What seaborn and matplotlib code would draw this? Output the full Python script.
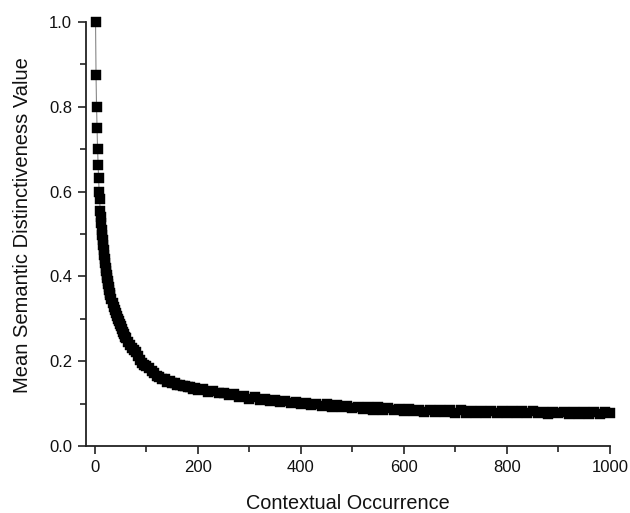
import matplotlib
matplotlib.use("Agg")
import matplotlib.pyplot as plt
import seaborn as sns
import pandas as pd
from matplotlib.ticker import MultipleLocator

occurrence = (list(range(1, 31)) + list(range(32, 61, 2)) + list(range(64, 101, 4))
              + list(range(105, 201, 5)) + list(range(210, 1001, 10)))

distinctiveness = [
    1.000, 0.875, 0.800, 0.750, 0.700, 0.664, 0.631, 0.600, 0.583, 0.555,
    0.540, 0.525, 0.510, 0.498, 0.487, 0.474, 0.462, 0.451, 0.440, 0.431,
    0.421, 0.412, 0.404, 0.396, 0.389, 0.381, 0.374, 0.368, 0.361, 0.356,
    # 32..60 step 2
    0.346, 0.337, 0.329, 0.321, 0.313, 0.306, 0.300, 0.294, 0.288, 0.282,
    0.276, 0.270, 0.264, 0.258, 0.254,
    # 64..100 step 4
    0.245, 0.238, 0.232, 0.226, 0.222, 0.212, 0.202, 0.196, 0.192, 0.188,
    # 105..200 step 5
    0.184, 0.176, 0.172, 0.166, 0.163, 0.158, 0.157, 0.152, 0.153, 0.148,
    0.149, 0.144, 0.145, 0.141, 0.142, 0.138, 0.139, 0.135, 0.136, 0.132,
    # 210..1000 step 10
    0.134, 0.128, 0.130, 0.124, 0.126, 0.120, 0.122, 0.116, 0.118, 0.112,
    0.115, 0.109, 0.111, 0.106, 0.109, 0.103, 0.106, 0.101, 0.104, 0.099,
    0.102, 0.096, 0.099, 0.094, 0.098, 0.092, 0.096, 0.091, 0.095, 0.089,
    0.093, 0.088, 0.092, 0.086, 0.091, 0.085, 0.089, 0.084, 0.088, 0.083,
    0.087, 0.082, 0.086, 0.081, 0.085, 0.080, 0.085, 0.080, 0.084, 0.079,
    0.084, 0.079, 0.083, 0.078, 0.083, 0.079, 0.083, 0.078, 0.082, 0.077,
    0.083, 0.078, 0.082, 0.077, 0.082, 0.077, 0.081, 0.076, 0.081, 0.077,
    0.081, 0.076, 0.080, 0.076, 0.081, 0.075, 0.080, 0.076, 0.080, 0.077,
]

x_ticks = [0, 200, 400, 600, 800, 1000]
y_ticks = [0.0, 0.2, 0.4, 0.6, 0.8, 1.0]

df = pd.DataFrame({"x": occurrence, "y": distinctiveness})

sns.set_style("ticks")
plt.rcParams["font.family"] = ["Liberation Sans", "DejaVu Sans"]

fig = plt.figure(figsize=(6.3, 5.13), dpi=100)
ax = fig.add_axes([0.1365, 0.1306, 0.968 - 0.1365, 0.957 - 0.1306])

sns.lineplot(data=df, x="x", y="y", color="#888888", linewidth=0.8, ax=ax, zorder=1)
sns.scatterplot(data=df, x="x", y="y", marker="s", s=46, color="black",
                edgecolor="black", linewidth=0.3, ax=ax, zorder=2, clip_on=False)

ax.set_xlim(-17.5, 1000)
ax.set_ylim(0, 1.0)
ax.set_xticks(x_ticks)
ax.set_yticks(y_ticks)
ax.set_xticklabels([str(t) for t in x_ticks])
ax.set_yticklabels([f"{t:.1f}" for t in y_ticks])
ax.xaxis.set_minor_locator(MultipleLocator(100))
ax.yaxis.set_minor_locator(MultipleLocator(0.1))

for s in ["top", "right"]:
    ax.spines[s].set_visible(False)
for s in ["left", "bottom"]:
    ax.spines[s].set_linewidth(1.3)
    ax.spines[s].set_color("#222222")

ax.tick_params(which="major", direction="out", length=6, width=1.2, color="#222222",
               labelsize=12, labelcolor="#111111", pad=4)
ax.tick_params(which="minor", direction="out", length=4, width=1.2, color="#222222")

ax.set_xlabel("Contextual Occurrence", fontsize=14.3, color="#111111", labelpad=14)
ax.set_ylabel("Mean Semantic Distinctiveness Value", fontsize=14.5, color="#111111")
ax.yaxis.set_label_coords(-0.103, 0.521)

fig.savefig("out.png", dpi=100)
